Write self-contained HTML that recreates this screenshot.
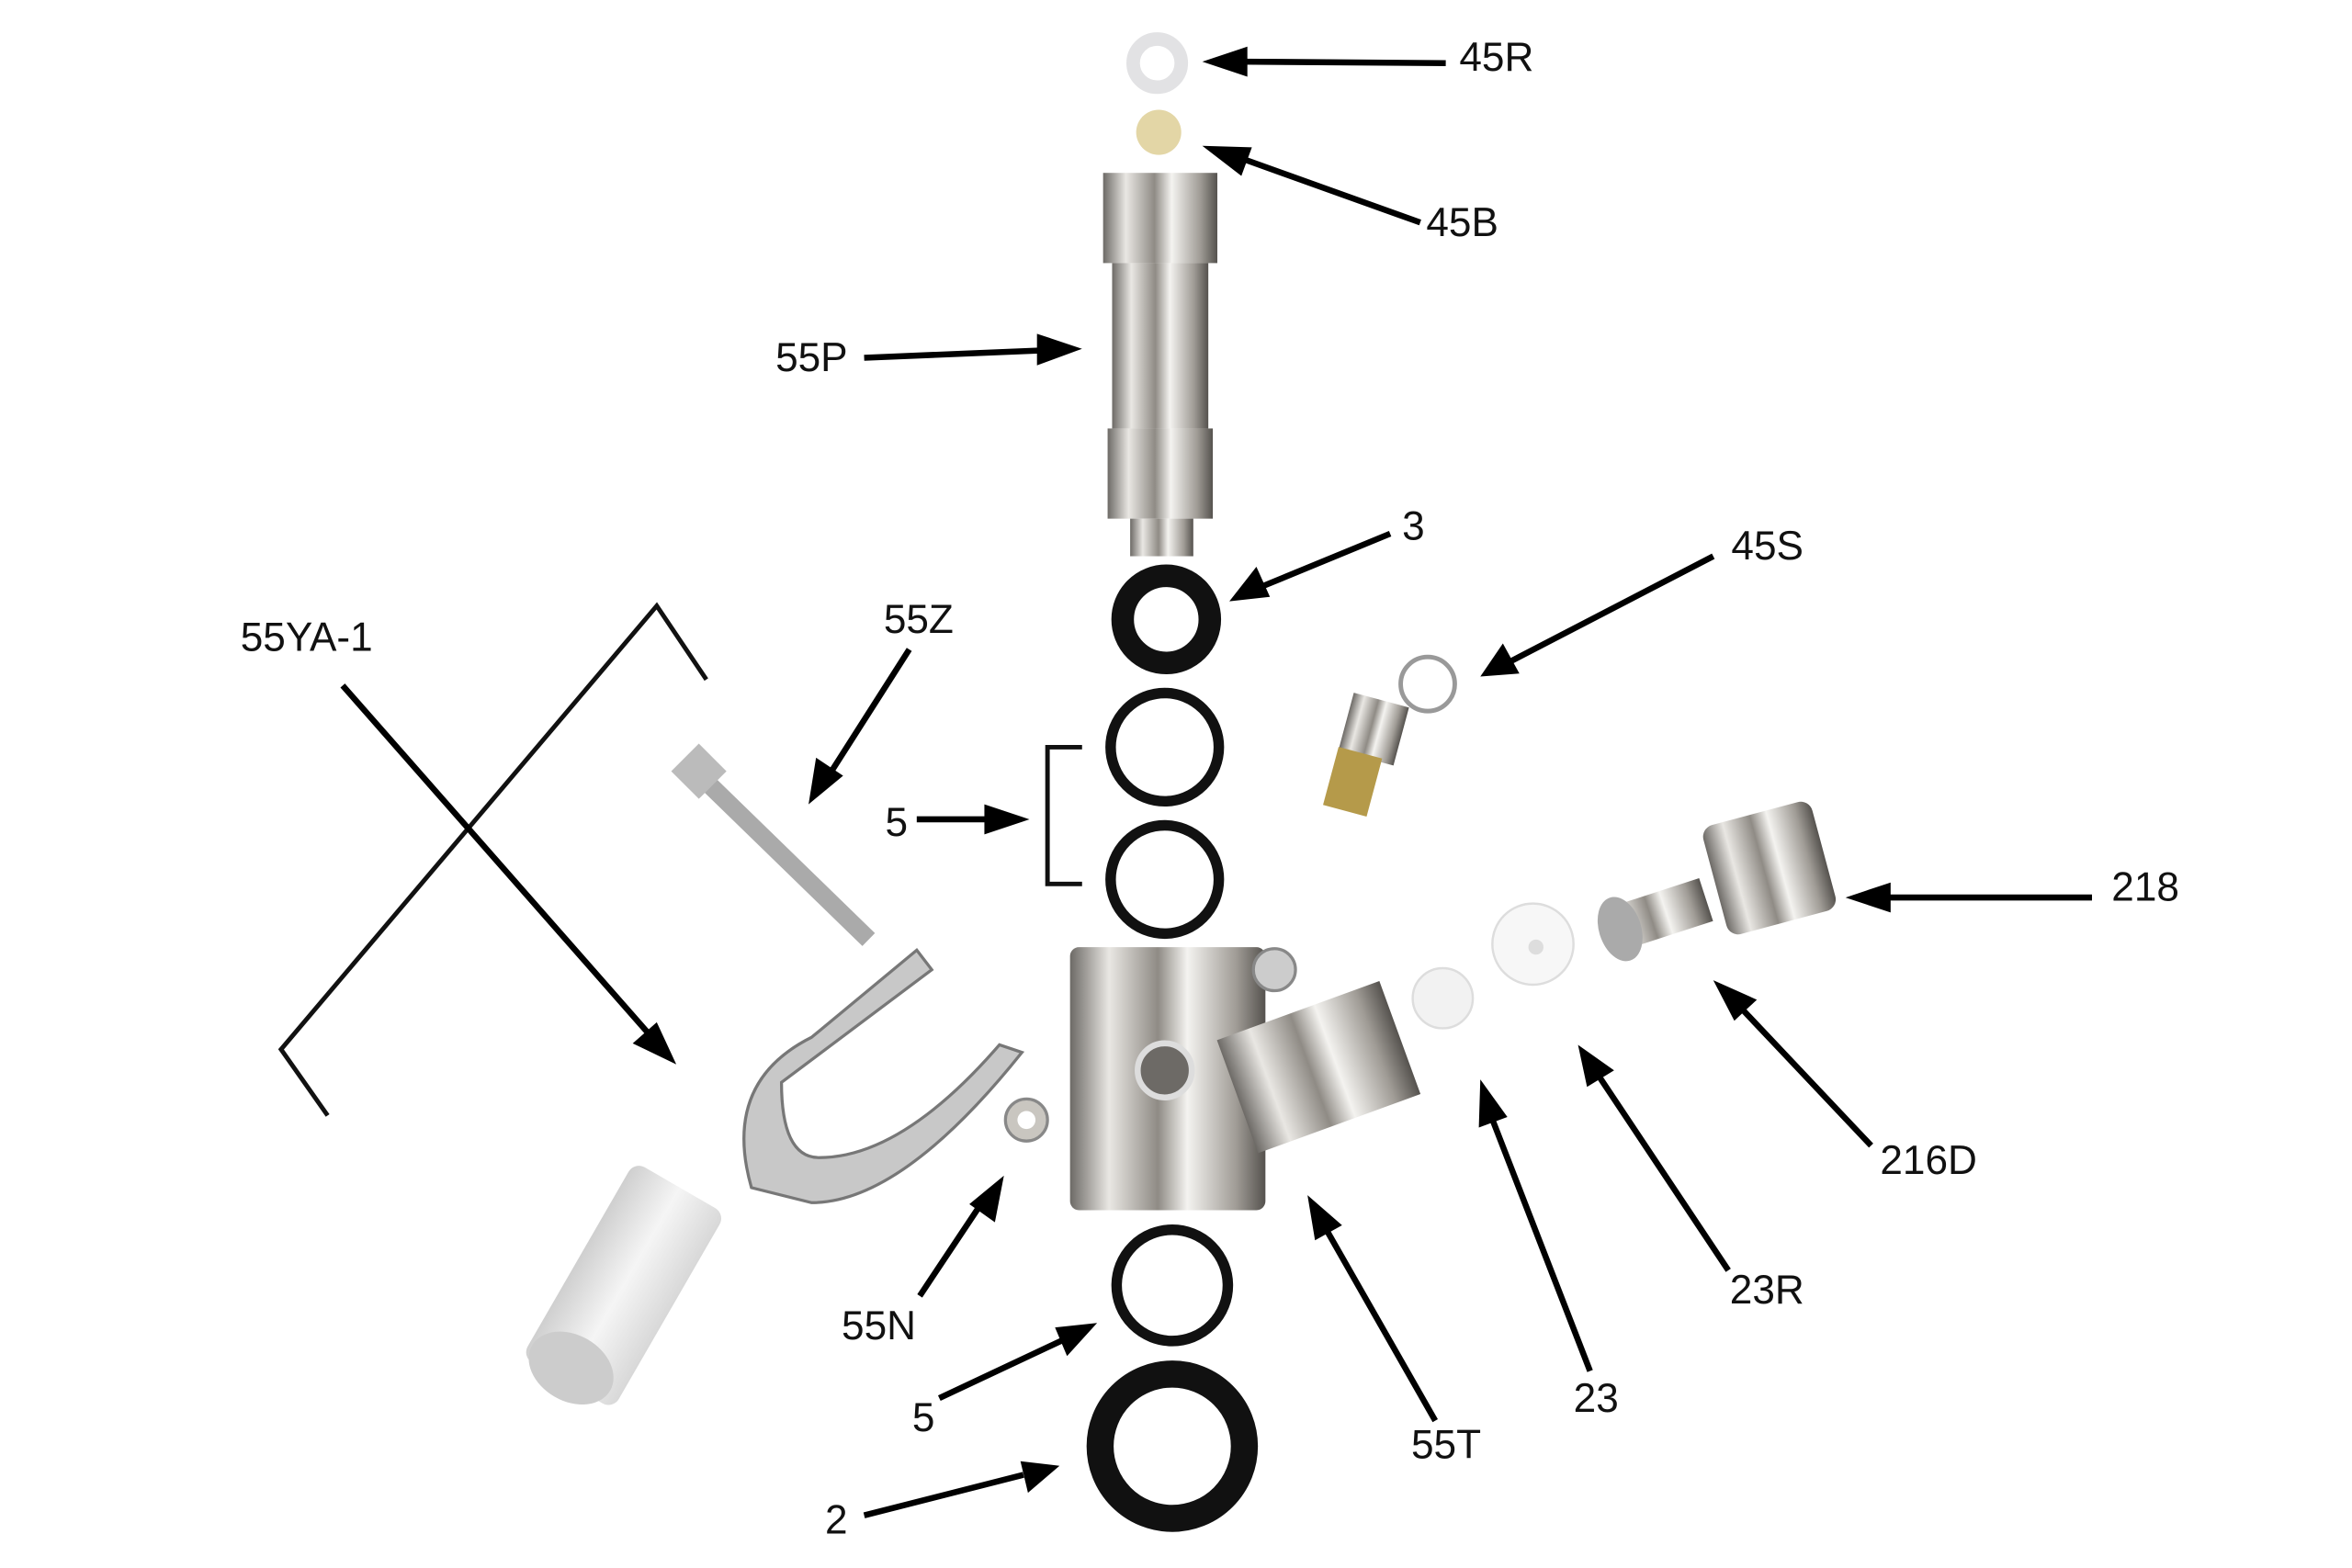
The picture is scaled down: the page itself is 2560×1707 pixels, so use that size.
<!DOCTYPE html>
<html><head><meta charset="utf-8"><style>
html,body{margin:0;padding:0;background:#fff;}
svg{display:block}
text{font-family:"Liberation Sans",sans-serif;font-size:27px;fill:#111}
</style></head><body>
<svg width="2560" height="1707" viewBox="0 0 1565 1043" preserveAspectRatio="none" xmlns="http://www.w3.org/2000/svg">
<defs>
<linearGradient id="m" x1="0" x2="1" y1="0" y2="0">
<stop offset="0" stop-color="#6d6a66"/><stop offset=".2" stop-color="#e9e7e3"/><stop offset=".45" stop-color="#8f8b85"/><stop offset=".6" stop-color="#f4f3f0"/><stop offset=".85" stop-color="#a09c96"/><stop offset="1" stop-color="#55524e"/>
</linearGradient>
<linearGradient id="w" x1="0" x2="1"><stop offset="0" stop-color="#cfcfcf"/><stop offset=".5" stop-color="#f5f5f5"/><stop offset="1" stop-color="#d8d8d8"/></linearGradient>
</defs>
<circle cx="770" cy="42" r="16" fill="none" stroke="#e2e2e4" stroke-width="9"/>
<circle cx="771" cy="88" r="15" fill="#e3d6a6"/>
<rect x="734" y="115" width="76" height="60" fill="url(#m)"/>
<rect x="740" y="175" width="64" height="110" fill="url(#m)"/>
<rect x="737" y="285" width="70" height="60" fill="url(#m)"/>
<rect x="752" y="345" width="42" height="25" fill="url(#m)"/>
<circle cx="776" cy="412" r="29" fill="none" stroke="#111" stroke-width="15"/>
<circle cx="775" cy="497" r="36" fill="none" stroke="#111" stroke-width="7"/>
<circle cx="775" cy="585" r="36" fill="none" stroke="#111" stroke-width="7"/>
<circle cx="780" cy="855" r="37" fill="none" stroke="#111" stroke-width="7"/>
<circle cx="780" cy="962" r="48" fill="none" stroke="#111" stroke-width="18"/>
<polyline points="720,497 697,497 697,588 720,588" fill="none" stroke="#111" stroke-width="3"/>
<polyline points="470,452 437,403 187,698 218,742" fill="none" stroke="#111" stroke-width="3"/>
<circle cx="950" cy="455" r="18" fill="none" stroke="#999" stroke-width="3"/>
<rect x="895" y="465" width="38" height="40" fill="url(#m)" transform="rotate(15 914 485)"/>
<rect x="885" y="500" width="30" height="40" fill="#b59a4a" transform="rotate(15 900 520)"/>
<line x1="470" y1="520" x2="578" y2="625" stroke="#aaa" stroke-width="12"/>
<rect x="452" y="500" width="26" height="26" fill="#bbb" transform="rotate(45 465 513)"/>
<path d="M610,632 L540,690 Q480,720 500,790 L540,800 Q600,800 680,700 L665,695 Q600,770 545,770 Q520,770 520,720 L620,645Z" fill="#c8c8c8" stroke="#777" stroke-width="2"/>
<rect x="380" y="780" width="70" height="150" rx="8" fill="url(#w)" transform="rotate(30 415 855)"/>
<ellipse cx="380" cy="910" rx="30" ry="22" fill="#ccc" transform="rotate(30 380 910)"/>
<circle cx="683" cy="745" r="14" fill="#c9c6c0" stroke="#888" stroke-width="2"/>
<circle cx="683" cy="745" r="6" fill="#fff"/>
<rect x="712" y="630" width="130" height="175" rx="6" fill="url(#m)"/>
<rect x="820" y="670" width="115" height="80" fill="url(#m)" transform="rotate(-20 877 710)"/>
<circle cx="775" cy="712" r="18" fill="#6d6a66" stroke="#ddd" stroke-width="4"/>
<circle cx="848" cy="645" r="14" fill="#ccc" stroke="#888" stroke-width="2"/>
<circle cx="960" cy="664" r="20" fill="#f2f2f2" stroke="#ddd" stroke-width="1.5"/>
<circle cx="1020" cy="628" r="27" fill="#f7f7f7" stroke="#ddd" stroke-width="1.5"/>
<circle cx="1022" cy="630" r="5" fill="#ddd"/>
<rect x="1068" y="595" width="70" height="30" fill="url(#m)" transform="rotate(-18 1100 613)"/>
<ellipse cx="1078" cy="618" rx="14" ry="22" fill="#aaa" transform="rotate(-18 1078 618)"/>
<rect x="1140" y="540" width="75" height="75" rx="8" fill="url(#m)" transform="rotate(-15 1177 578)"/>
<g stroke="#000" stroke-width="4" fill="#000">
<line x1="962" y1="42" x2="825" y2="41"/><polygon points="800,41 830,31 830,51" stroke="none"/>
<line x1="945" y1="148" x2="825" y2="105"/><polygon points="800,97 833,98 826,117" stroke="none"/>
<line x1="575" y1="238" x2="695" y2="233"/><polygon points="720,232 690,222 690,243" stroke="none"/>
<line x1="925" y1="355" x2="840" y2="390"/><polygon points="818,400 836,377 845,397" stroke="none"/>
<line x1="610" y1="545" x2="660" y2="545"/><polygon points="685,545 655,535 655,555" stroke="none"/>
<line x1="1140" y1="370" x2="1005" y2="440"/><polygon points="985,450 1000,428 1011,448" stroke="none"/>
<line x1="605" y1="432" x2="552" y2="515"/><polygon points="538,535 543,504 561,516" stroke="none"/>
<line x1="228" y1="456" x2="432" y2="688"/><polygon points="450,708 421,694 437,680" stroke="none"/>
<line x1="1392" y1="597" x2="1253" y2="597"/><polygon points="1228,597 1258,587 1258,607" stroke="none"/>
<line x1="1245" y1="762" x2="1158" y2="670"/><polygon points="1140,652 1169,665 1154,679" stroke="none"/>
<line x1="1150" y1="845" x2="1064" y2="716"/><polygon points="1050,695 1074,712 1056,723" stroke="none"/>
<line x1="1058" y1="912" x2="992" y2="742"/><polygon points="985,718 1003,743 984,750" stroke="none"/>
<line x1="955" y1="945" x2="882" y2="817"/><polygon points="870,795 893,815 875,825" stroke="none"/>
<line x1="612" y1="862" x2="652" y2="802"/><polygon points="668,782 662,813 645,801" stroke="none"/>
<line x1="625" y1="930" x2="708" y2="891"/><polygon points="730,880 710,902 702,883" stroke="none"/>
<line x1="575" y1="1008" x2="681" y2="981"/><polygon points="705,975 684,993 679,972" stroke="none"/>
</g>
<text x="971" y="47">45R</text>
<text x="949" y="157">45B</text>
<text x="516" y="247">55P</text>
<text x="933" y="359">3</text>
<text x="1152" y="372">45S</text>
<text x="588" y="421">55Z</text>
<text x="160" y="433">55YA-1</text>
<text x="589" y="556">5</text>
<text x="1405" y="599">218</text>
<text x="1251" y="781">216D</text>
<text x="560" y="891">55N</text>
<text x="1151" y="867">23R</text>
<text x="1047" y="939">23</text>
<text x="607" y="952">5</text>
<text x="939" y="970">55T</text>
<text x="549" y="1020">2</text>
</svg>
</body></html>
